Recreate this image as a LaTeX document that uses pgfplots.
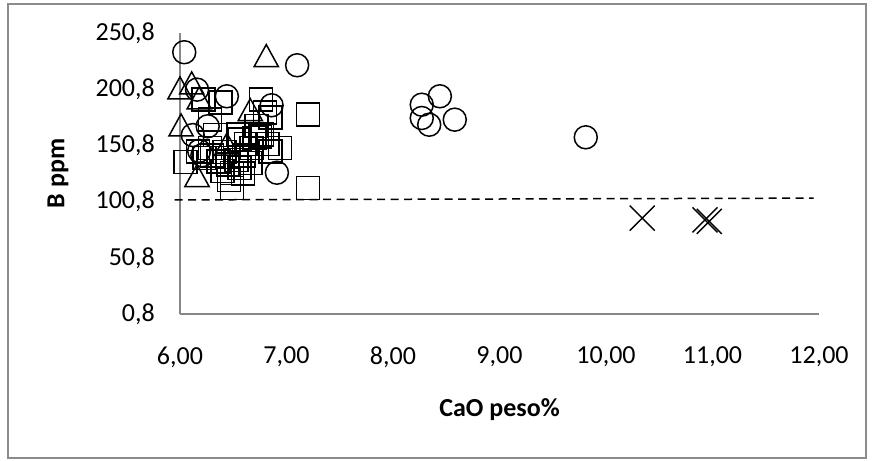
\documentclass[border=0pt]{standalone}
\usepackage{pgfplots}
\pgfplotsset{compat=1.18}
\usepackage{fontspec}
\setmainfont{Carlito}

% open triangle centred on its bounding box
\pgfdeclareplotmark{btri}{%
  \pgfpathmoveto{\pgfpoint{0pt}{\pgfplotmarksize}}%
  \pgfpathlineto{\pgfpoint{-1.1\pgfplotmarksize}{-\pgfplotmarksize}}%
  \pgfpathlineto{\pgfpoint{1.1\pgfplotmarksize}{-\pgfplotmarksize}}%
  \pgfpathclose\pgfusepathqstroke}
% plain cross spanning the full mark size
\pgfdeclareplotmark{bx}{%
  \pgfpathmoveto{\pgfpoint{-\pgfplotmarksize}{-\pgfplotmarksize}}%
  \pgfpathlineto{\pgfpoint{\pgfplotmarksize}{\pgfplotmarksize}}%
  \pgfpathmoveto{\pgfpoint{-\pgfplotmarksize}{\pgfplotmarksize}}%
  \pgfpathlineto{\pgfpoint{\pgfplotmarksize}{-\pgfplotmarksize}}%
  \pgfusepathqstroke}

\begin{document}
\begin{tikzpicture}
% page and chart-area frame
\path (-180bp,-147bp) rectangle (693bp,314bp);
\draw[black!45, line width=2bp] (-171.5bp,-144bp) rectangle (686bp,309.5bp);
\begin{axis}[
  at={(0,0)}, anchor=origin,
  scale only axis, width=639bp, height=281bp,
  xmin=6, xmax=12, ymin=0.8, ymax=250.8,
  clip=false,
  axis x line*=bottom, axis y line*=left,
  axis line style={black!47, line width=1.3bp, -},
  major tick length=0pt,
  xtick={6,7,8,9,10,11,12},
  xticklabels={{6,00},{7,00},{8,00},{9,00},{10,00},{11,00},{12,00}},
  ytick={0.8,50.8,100.8,150.8,200.8,250.8},
  yticklabels={{0,8},{50,8},{100,8},{150,8},{200,8},{250,8}},
  tick label style={font=\fontsize{26bp}{30bp}\selectfont, inner sep=0pt},
  xticklabel style={anchor=center, yshift=-43bp},
  yticklabel style={anchor=east, xshift=-25bp},
  xlabel={CaO peso\%},
  ylabel={B ppm},
  every axis x label/.style={at={(axis description cs:0.5,0)}, anchor=center, yshift=-96bp,
    font=\fontsize{26bp}{30bp}\selectfont\bfseries},
  every axis y label/.style={at={(axis description cs:0,0.5)}, xshift=-122bp, rotate=90, anchor=center,
    font=\fontsize{26bp}{30bp}\selectfont\bfseries},
]
% reference level
\addplot[black, line width=1.5bp, dash pattern=on 8bp off 5.5bp]
  coordinates {(5.95,102.3) (11.95,103.9)};
% squares
\addplot[only marks, mark=square, mark size=11.5bp, line width=1.5bp, black]
  coordinates {
  (6.22,191.5) (6.38,188.9) (6.76,191.5) (6.80,180) (6.85,175.5) (7.20,178.2)
  (6.28,173.7) (6.55,160.3) (6.70,157.4) (6.77,160.3) (6.75,158.8) (6.56,155.9)
  (6.94,148.5) (6.85,145.5) (6.67,148.5) (6.05,136) (6.17,145.5) (6.23,139.6)
  (6.28,148.5) (6.36,136.5) (6.45,133.6) (6.53,138) (6.49,126.2) (6.59,126)
  (6.56,130.7) (6.40,128) (6.49,113) (7.20,112.8) (6.62,152) (6.30,142)
  (6.33,160) (6.42,145) (6.60,142) (6.66,135) (6.72,168) (6.82,152) (6.46,120)};
% triangles
\addplot[only marks, mark=btri, mark size=11bp, line width=1.5bp, black]
  coordinates {
  (6.81,230.7) (6.00,202) (6.11,206.4) (6.18,193) (6.66,182.6)
  (6.01,169) (6.44,152) (6.16,124)};
% circles
\addplot[only marks, mark=o, mark size=11.5bp, line width=1.5bp, black]
  coordinates {
  (6.04,233.7) (7.10,222.1) (6.16,200.4) (6.44,194.5) (6.86,186.5) (6.26,167.8)
  (6.12,160) (6.21,142) (6.18,146) (6.91,126.5)
  (8.44,194.5) (8.27,187) (8.27,175.2) (8.34,169.2) (8.58,173.7) (9.81,158)};
% crosses
\addplot[only marks, mark=bx, mark size=12.5bp, line width=1.4bp, black]
  coordinates {(10.34,86.1) (10.93,84.6) (10.97,83.2)};
\end{axis}
\end{tikzpicture}
\end{document}
